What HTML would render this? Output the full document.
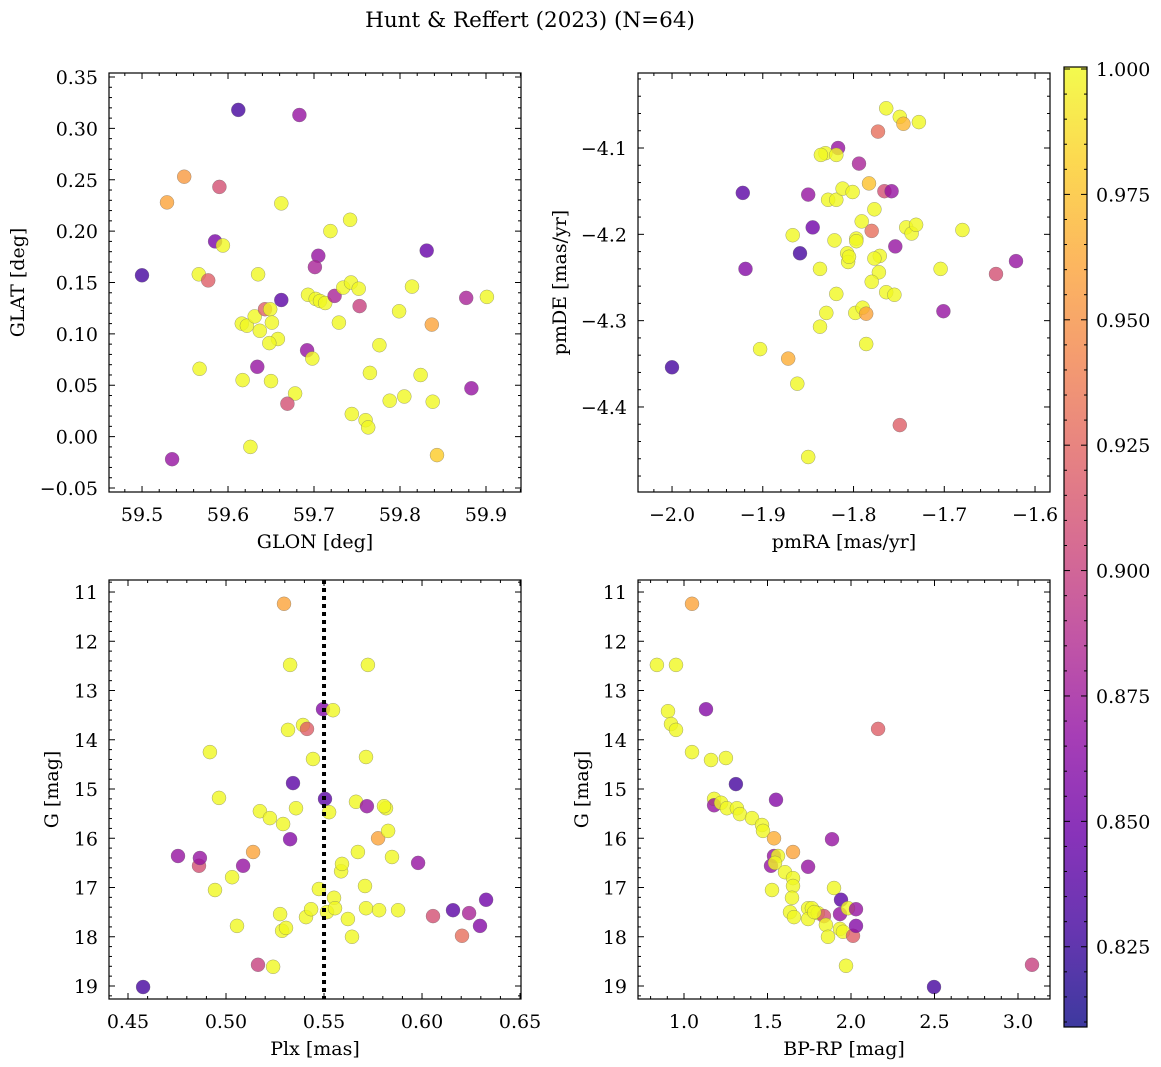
<!DOCTYPE html>
<html><head><meta charset="utf-8"><style>
body{margin:0;background:#fff;}
svg{display:block;font-family:"DejaVu Serif","Liberation Serif",serif;}
</style></head><body>
<svg id="fig" width="1161" height="1067" viewBox="0 0 1161 1067" xmlns="http://www.w3.org/2000/svg">
<defs>
<linearGradient id="cbgrad" x1="0" y1="1" x2="0" y2="0">
<stop offset="0" stop-color="#0d0887"/><stop offset="0.1" stop-color="#41049d"/><stop offset="0.2" stop-color="#6a00a8"/><stop offset="0.3" stop-color="#8f0da4"/><stop offset="0.4" stop-color="#b12a90"/><stop offset="0.5" stop-color="#cc4778"/><stop offset="0.6" stop-color="#e16462"/><stop offset="0.7" stop-color="#f2844b"/><stop offset="0.8" stop-color="#fca636"/><stop offset="0.9" stop-color="#fcce25"/><stop offset="1" stop-color="#f0f921"/>
</linearGradient>
</defs>
<text x="530" y="27" font-size="21.5" text-anchor="middle">Hunt &amp; Reffert (2023) (N=64)</text>
<g id="plots"></g>
</svg>
<script>
// ---- data ----
const p1Lon=[59.500,59.529,59.549,59.590,59.585,59.594,59.612,59.683,59.662,59.566,59.577,59.635,59.616,59.622,59.631,59.643,59.649,59.637,59.651,59.658,59.648,59.662,59.567,59.617,59.634,59.650,59.678,59.669,59.626,59.535,59.692,59.698,59.693,59.702,59.707,59.713,59.705,59.701,59.719,59.742,59.724,59.734,59.743,59.752,59.753,59.729,59.776,59.765,59.744,59.760,59.763,59.788,59.805,59.799,59.814,59.831,59.837,59.824,59.838,59.843,59.877,59.901,59.883];
const p1Lat=[0.157,0.228,0.253,0.243,0.190,0.186,0.318,0.313,0.227,0.158,0.152,0.158,0.110,0.108,0.117,0.124,0.124,0.103,0.111,0.095,0.091,0.133,0.066,0.055,0.068,0.054,0.042,0.032,-0.010,-0.022,0.084,0.076,0.138,0.134,0.132,0.130,0.176,0.165,0.200,0.211,0.137,0.145,0.150,0.144,0.127,0.111,0.089,0.062,0.022,0.016,0.009,0.035,0.039,0.122,0.146,0.181,0.109,0.060,0.034,-0.018,0.135,0.136,0.047];
const p1Prob=[0.83,0.96,0.955,0.91,0.855,1,0.83,0.87,1,1,0.92,1,1,1,1,0.92,1,1,1,1,1,0.84,1,1,0.87,1,1,0.91,1,0.87,0.87,1,1,1,1,1,0.87,0.88,1,1,0.88,1,1,1,0.9,1,1,1,1,1,1,1,1,1,1,0.845,0.96,1,1,0.98,0.88,1,0.87];

const p2Ra=[-2.000,-1.922,-1.919,-1.859,-1.850,-1.845,-1.817,-1.794,-1.783,-1.773,-1.766,-1.758,-1.764,-1.749,-1.745,-1.728,-1.754,-1.780,-1.643,-1.621,-1.701,-1.749,-1.704,-1.680,-1.742,-1.736,-1.731,-1.777,-1.791,-1.797,-1.797,-1.807,-1.806,-1.805,-1.819,-1.830,-1.837,-1.798,-1.790,-1.786,-1.772,-1.771,-1.777,-1.764,-1.755,-1.786,-1.837,-1.831,-1.819,-1.821,-1.836,-1.828,-1.819,-1.812,-1.801,-1.867,-1.903,-1.872,-1.862,-1.850,-1.780];
const p2De=[-4.354,-4.152,-4.240,-4.222,-4.154,-4.192,-4.100,-4.118,-4.141,-4.081,-4.150,-4.150,-4.054,-4.064,-4.072,-4.070,-4.214,-4.196,-4.246,-4.231,-4.289,-4.421,-4.240,-4.195,-4.192,-4.199,-4.189,-4.171,-4.185,-4.205,-4.208,-4.222,-4.232,-4.226,-4.269,-4.291,-4.307,-4.291,-4.285,-4.292,-4.244,-4.225,-4.228,-4.267,-4.270,-4.327,-4.240,-4.106,-4.108,-4.207,-4.108,-4.160,-4.160,-4.147,-4.151,-4.201,-4.333,-4.344,-4.373,-4.458,-4.255];
const p2Prob=[0.83,0.84,0.86,0.83,0.87,0.85,0.87,0.88,0.975,0.93,0.91,0.87,1,1,0.97,1,0.87,0.93,0.91,0.87,0.87,0.92,1,1,1,1,1,1,1,1,1,1,1,1,1,1,1,1,1,0.96,1,1,1,1,1,1,1,1,1,1,1,1,1,1,1,1,1,0.965,1,1,1];

const p3Plx=[0.4577,0.4755,0.4862,0.4867,0.4918,0.4944,0.4964,0.5031,0.5056,0.5087,0.5138,0.5163,0.5173,0.5224,0.5240,0.5276,0.5286,0.5291,0.5296,0.5306,0.5327,0.5316,0.5327,0.5342,0.5357,0.5393,0.5413,0.5408,0.5434,0.5444,0.5474,0.5495,0.5505,0.5515,0.5526,0.5546,0.5551,0.5556,0.5587,0.5592,0.5622,0.5643,0.5663,0.5673,0.5709,0.5714,0.5719,0.5714,0.5724,0.5776,0.5781,0.5816,0.5827,0.5847,0.5878,0.5980,0.6056,0.6158,0.6204,0.6240,0.6296,0.6327,0.5806];
const p3G=[19.02,16.36,16.56,16.40,14.25,17.05,15.18,16.79,17.78,16.56,16.28,18.57,15.45,15.59,18.61,17.54,17.88,15.71,11.24,17.82,12.48,13.80,16.02,14.88,15.39,13.70,13.78,17.60,17.44,14.39,17.03,13.38,15.20,17.50,15.47,13.40,17.21,17.42,16.67,16.52,17.64,18.00,15.26,16.28,16.97,17.42,15.35,14.35,12.48,16.00,17.46,15.39,15.85,16.38,17.46,16.50,17.58,17.46,17.98,17.52,17.78,17.25,15.35];
const p3Prob=[0.83,0.87,0.91,0.87,1,1,1,1,1,0.87,0.96,0.9,1,1,1,1,1,1,0.96,1,1,1,0.86,0.84,1,1,0.92,1,1,1,1,0.86,0.84,1,1,1,1,1,1,1,1,1,1,1,1,1,0.87,1,1,0.96,1,1,1,1,1,0.87,0.91,0.84,0.93,0.88,0.86,0.85,1];

const p4Col=[0.838,0.952,1.048,0.904,0.922,0.952,1.048,1.132,1.162,1.251,1.311,1.180,1.180,1.222,1.257,1.317,1.335,1.407,1.467,1.473,1.551,1.539,1.539,1.563,1.521,1.545,1.527,1.605,1.653,1.653,1.653,1.647,1.635,1.659,1.743,1.743,1.766,1.743,1.802,1.838,1.850,1.862,1.886,1.898,1.940,1.934,1.934,1.952,1.970,1.982,2.012,2.030,2.030,2.162,2.497,3.084,1.780];
const p4G=[12.48,12.48,11.24,13.42,13.68,13.80,14.25,13.38,14.41,14.37,14.90,15.20,15.33,15.28,15.39,15.39,15.51,15.59,15.73,15.85,15.22,16.00,16.36,16.36,16.56,16.50,17.05,16.69,16.28,16.81,16.97,17.21,17.50,17.60,16.58,17.42,17.42,17.64,17.52,17.58,17.76,18.00,16.02,17.01,17.25,17.54,17.84,17.90,18.59,17.42,17.98,17.44,17.78,13.78,19.02,18.57,17.50];
const p4Prob=[1,1,0.96,1,1,1,1,0.86,1,1,0.83,1,0.87,1,1,1,1,1,1,1,0.86,0.965,0.87,1,0.87,1,1,1,0.96,1,1,1,1,1,0.87,1,1,1,1,0.91,1,1,0.87,1,0.84,0.87,1,1,1,1,0.92,0.87,0.86,0.92,0.83,0.9,1];

const cbTicks=[0.825,0.850,0.875,0.900,0.925,0.950,0.975,1.000];
const VMIN=0.809, VMAX=1.0004;

// ---- helpers ----
const NS="http://www.w3.org/2000/svg";
const root=document.getElementById('plots');
const FS=19;
function mk(tag,attrs,parent){const e=document.createElementNS(NS,tag);for(const k in attrs)e.setAttribute(k,attrs[k]);(parent||root).appendChild(e);return e;}
const stops=[[13,8,135],[65,4,157],[106,0,168],[143,13,164],[177,42,144],[204,71,120],[225,100,98],[242,132,75],[252,166,54],[252,206,37],[240,249,33]];
function plasma(v){let t=(v-VMIN)/(VMAX-VMIN);t=Math.max(0,Math.min(1,t));const f=t*10,i=Math.min(9,Math.floor(f)),r=f-i;const a=stops[i],b=stops[i+1];return 'rgb('+[0,1,2].map(k=>Math.round(a[k]+(b[k]-a[k])*r)).join(',')+')';}
function fmt(v,d){return (v<0?'\u2212':'')+Math.abs(v).toFixed(d);}

function panel(cfg,xs,ys,ps,name){
  const g=mk('g',{});
  
  
  const sx=v=>cfg.L+(v-cfg.xmin)/(cfg.xmax-cfg.xmin)*(cfg.R-cfg.L);
  const sy=cfg.inv?(v=>cfg.T+(v-cfg.ymin)/(cfg.ymax-cfg.ymin)*(cfg.B-cfg.T)):(v=>cfg.B-(v-cfg.ymin)/(cfg.ymax-cfg.ymin)*(cfg.B-cfg.T));
  for(let i=0;i<xs.length;i++){
    const c=mk('circle',{cx:sx(xs[i]).toFixed(1),cy:sy(ys[i]).toFixed(1),r:7,fill:plasma(ps[i]),'fill-opacity':0.8,stroke:'#666','stroke-width':0.5,'stroke-opacity':0.6},g);
    
    
  }
  if(cfg.vline!==undefined){
    const l=mk('line',{x1:sx(cfg.vline),x2:sx(cfg.vline),y1:cfg.T,y2:cfg.B,stroke:'#000','stroke-width':4,'stroke-dasharray':'4,4'},g);
    
    
  }
  const fr=mk('rect',{x:cfg.L,y:cfg.T,width:cfg.R-cfg.L,height:cfg.B-cfg.T,fill:'none',stroke:'#000','stroke-width':1.2},g);
  
  
  const xa=mk('g',{},g);
  
  
  for(let k=Math.ceil(cfg.xmin/cfg.xmn-1e-6);k*cfg.xmn<=cfg.xmax;k++){
    const v=k*cfg.xmn,x=sx(v);
    const major=Math.abs(v/cfg.xmj-Math.round(v/cfg.xmj))<1e-6;
    const len=major?6:3;
    mk('line',{x1:x,x2:x,y1:cfg.B,y2:cfg.B-len,stroke:'#000','stroke-width':1},xa);
    mk('line',{x1:x,x2:x,y1:cfg.T,y2:cfg.T+len,stroke:'#000','stroke-width':1},xa);
    if(major){const t=mk('text',{x:x,y:cfg.B+29,'font-size':FS,'text-anchor':'middle'},xa);t.textContent=fmt(v,cfg.xd);
      
      }
  }
  const ya=mk('g',{},g);
  
  
  const lo=Math.min(cfg.ymin,cfg.ymax),hi=Math.max(cfg.ymin,cfg.ymax);
  for(let k=Math.ceil(lo/cfg.ymn-1e-6);k*cfg.ymn<=hi+1e-9;k++){
    const v=k*cfg.ymn,y=sy(v);
    const major=Math.abs(v/cfg.ymj-Math.round(v/cfg.ymj))<1e-6;
    const len=major?6:3;
    mk('line',{x1:cfg.L,x2:cfg.L+len,y1:y,y2:y,stroke:'#000','stroke-width':1},ya);
    mk('line',{x1:cfg.R,x2:cfg.R-len,y1:y,y2:y,stroke:'#000','stroke-width':1},ya);
    if(major){const t=mk('text',{x:cfg.L-11,y:y+7,'font-size':FS,'text-anchor':'end'},ya);t.textContent=fmt(v,cfg.yd);
      
      }
  }
  const xl=mk('text',{x:(cfg.L+cfg.R)/2,y:cfg.B+56,'font-size':FS,'text-anchor':'middle'},g);
  xl.textContent=cfg.xlab;
  
  
  const yl=mk('text',{x:0,y:0,'font-size':FS,'text-anchor':'middle',transform:'translate('+cfg.ylx+','+((cfg.T+cfg.B)/2)+') rotate(-90)'},g);
  yl.textContent=cfg.ylab;
  
  
}

panel({L:109,R:521,T:73,B:492,xmin:59.4616,xmax:59.9407,ymin:-0.0539,ymax:0.3539,xmj:0.1,xmn:0.02,ymj:0.05,ymn:0.01,xd:1,yd:2,xlab:'GLON [deg]',ylab:'GLAT [deg]',ylx:24},p1Lon,p1Lat,p1Prob,'panel-glon-glat');
panel({L:638,R:1050,T:73,B:492,xmin:-2.0375,xmax:-1.5835,ymin:-4.4985,ymax:-4.0131,xmj:0.1,xmn:0.02,ymj:0.1,ymn:0.02,xd:1,yd:1,xlab:'pmRA [mas/yr]',ylab:'pmDE [mas/yr]',ylx:566},p2Ra,p2De,p2Prob,'panel-proper-motion');
panel({L:109,R:521,T:580,B:999,xmin:0.4403,xmax:0.6505,ymin:10.756,ymax:19.264,inv:true,xmj:0.05,xmn:0.01,ymj:1,ymn:0.2,xd:2,yd:0,xlab:'Plx [mas]',ylab:'G [mag]',ylx:58,vline:0.55},p3Plx,p3G,p3Prob,'panel-parallax-mag');
panel({L:638,R:1050,T:580,B:999,xmin:0.7246,xmax:3.1916,ymin:10.756,ymax:19.264,inv:true,xmj:0.5,xmn:0.1,ymj:1,ymn:0.2,xd:1,yd:0,xlab:'BP-RP [mag]',ylab:'G [mag]',ylx:588},p4Col,p4G,p4Prob,'panel-cmd');

const cb=mk('g',{});


const CT=67,CB=1027,CL=1064,CR=1087;
mk('rect',{x:CL,y:CT,width:CR-CL,height:CB-CT,fill:'url(#cbgrad)','fill-opacity':0.8},cb);
mk('rect',{x:CL,y:CT,width:CR-CL,height:CB-CT,fill:'none',stroke:'#000','stroke-width':1.2},cb);
const cy=v=>CB-(v-VMIN)/(VMAX-VMIN)*(CB-CT);
for(let k=Math.ceil(VMIN/0.005);k*0.005<=VMAX+1e-9;k++){
  const v=k*0.005,y=cy(v),major=Math.abs(v/0.025-Math.round(v/0.025))<1e-6;
  mk('line',{x1:CR,x2:CR-(major?6:3),y1:y,y2:y,stroke:'#000','stroke-width':1},cb);
  mk('line',{x1:CL,x2:CL+(major?6:3),y1:y,y2:y,stroke:'#000','stroke-width':1},cb);
}
cbTicks.forEach(v=>{const t=mk('text',{x:CR+9,y:cy(v)+7,'font-size':FS},cb);t.textContent=v.toFixed(3);
  
  });
</script>
</body></html>
